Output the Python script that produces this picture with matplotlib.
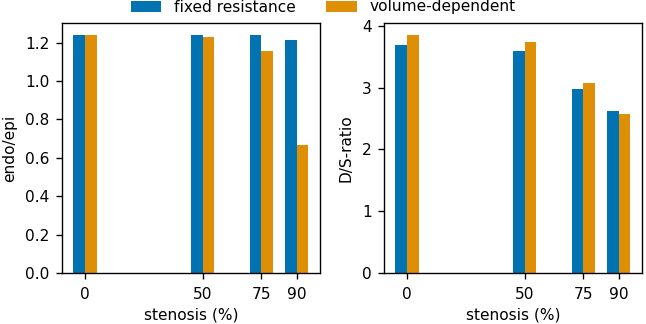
import numpy as np
import matplotlib
matplotlib.use("Agg")
import matplotlib.pyplot as plt

# stenosis levels (%)
stenosis = [0, 50, 75, 90]

# endo/epi ratio
endo_epi_fixed = [1.24, 1.24, 1.24, 1.214]
endo_epi_volume = [1.24, 1.231, 1.158, 0.667]

# D/S ratio
ds_fixed = [3.68, 3.59, 2.97, 2.62]
ds_volume = [3.85, 3.74, 3.07, 2.57]

labels = ["fixed resistance", "volume-dependent"]
colors = ["#0173B2", "#DE8F05"]
width = 5

plt.rcParams["font.size"] = 9
plt.rcParams["xtick.major.pad"] = 4.5

dpi = 123
fig, axes = plt.subplots(1, 2, figsize=(646 / dpi, 324 / dpi), dpi=dpi)
fig.subplots_adjust(left=0.0955, right=0.994, bottom=0.157, top=0.929, wspace=0.245)

x = np.array(stenosis)
panels = [
    (axes[0], endo_epi_fixed, endo_epi_volume, "endo/epi"),
    (axes[1], ds_fixed, ds_volume, "D/S-ratio"),
]
for ax, fixed, volume, ylabel in panels:
    ax.bar(x - width / 2, fixed, width, color=colors[0], label=labels[0])
    ax.bar(x + width / 2, volume, width, color=colors[1], label=labels[1])
    ax.set_xticks(stenosis)
    ax.set_xlabel("stenosis (%)", labelpad=3.5)
    ax.set_ylabel(ylabel, labelpad=5)

axes[0].set_yticks([0.0, 0.2, 0.4, 0.6, 0.8, 1.0, 1.2])
axes[1].set_yticks([0, 1, 2, 3, 4])

handles, leg_labels = axes[0].get_legend_handles_labels()
fig.legend(handles, leg_labels, loc="center", bbox_to_anchor=(0.5, 1 - 7 / 324),
           ncol=2, frameon=False, borderpad=0)

fig.savefig("out.png", dpi=dpi)
